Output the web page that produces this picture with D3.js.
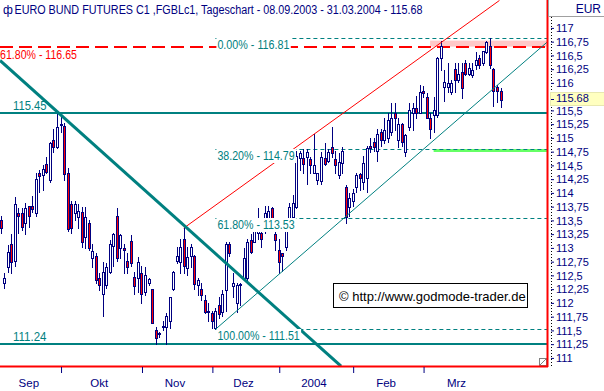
<!DOCTYPE html>
<html><head><meta charset="utf-8">
<script src="https://cdn.jsdelivr.net/npm/d3@7"></script>
<style>body{margin:0;background:#fff;overflow:hidden} svg{display:block} text{font-family:"Liberation Sans",Arial,sans-serif}</style>
</head><body><svg id="c" width="604" height="391"></svg>
<script>
// ---- data (daily OHLC, index 0 = 08.09.2003) ----
const openP = [113.49,112.35,112.64,113.07,112.76,113.62,113.62,113.44,113.75,113.76,113.62,114.35,114.31,114.51,114.22,114.96,114.82,115.25,115.20,114.35,
113.78,113.62,113.55,113.64,113.18,113.44,112.80,112.85,112.45,112.16,112.31,112.56,113.02,113.58,112.98,112.98,112.76,113.11,112.47,112.45,
112.53,112.18,112.35,112.24,111.49,111.45,111.55,111.55,111.67,112.25,112.76,112.73,113.16,112.62,112.85,112.85,112.31,112.25,112.05,111.82,
111.80,111.53,111.95,111.82,112.22,113.07,112.29,111.98,112.31,112.45,112.45,113.13,113.09,113.27,113.27,113.35,113.49,113.71,113.25,112.95,
112.89,113.00,113.53,113.55,113.73,114.62,114.62,114.64,114.60,114.36,114.22,114.20,114.62,114.58,114.82,114.60,114.31,114.53,114.09,113.73,
113.85,114.09,114.33,114.18,114.27,114.85,114.91,114.76,115.09,114.95,114.98,115.09,115.44,114.95,115.25,114.73,115.18,115.45,115.53,115.45,
115.85,115.73,115.36,115.40,115.40,116.44,115.91,115.91,115.82,116.25,116.04,116.18,116.36,116.16,116.13,116.31,116.45,116.36,116.55,116.67,
116.25,115.91,115.85];
const highP = [113.58,112.53,113.05,113.25,113.91,113.71,113.71,113.80,113.76,113.93,114.36,114.40,114.49,114.64,114.91,115.16,115.45,115.42,115.27,114.45,
113.85,113.85,113.78,113.73,113.73,113.49,113.07,112.89,112.53,112.73,112.71,113.13,113.27,113.71,113.25,113.07,112.89,113.22,112.55,112.82,
112.67,112.64,112.45,112.25,111.56,111.47,111.67,111.80,112.09,112.58,113.00,113.16,113.35,113.00,113.07,112.87,112.44,112.36,112.13,111.98,
111.85,111.89,112.09,112.22,113.09,113.09,112.53,112.35,112.35,112.98,113.16,113.25,113.49,113.71,113.35,113.76,113.75,113.73,113.35,113.16,
112.89,113.49,113.80,113.95,114.76,114.76,114.78,114.78,114.64,115.07,114.36,114.73,114.89,114.78,115.18,114.76,114.71,114.82,114.13,113.98,
114.07,114.36,114.35,114.67,114.85,114.98,114.98,115.16,115.15,115.35,115.45,115.62,115.62,115.36,115.27,115.07,115.62,115.62,115.76,115.95,
115.93,115.80,115.45,115.73,116.47,116.75,116.22,116.36,116.05,116.36,116.36,116.35,116.40,116.36,116.36,116.55,116.49,116.58,116.75,116.81,
116.27,115.95,115.89];
const lowP = [113.27,112.27,112.55,112.53,112.67,113.27,113.31,113.25,113.38,113.64,113.58,114.00,114.04,114.36,114.18,114.73,114.80,115.09,114.22,113.29,
113.27,113.49,113.35,113.00,112.98,112.95,112.64,112.36,112.22,111.76,112.27,112.53,112.67,112.76,112.80,112.53,112.53,112.67,112.16,112.18,
111.98,112.13,112.31,111.62,111.25,111.38,111.49,111.24,111.53,112.22,112.71,112.53,112.53,112.49,112.64,112.25,112.13,112.04,111.80,111.67,
111.53,111.51,111.71,111.76,111.85,112.85,112.09,111.82,111.95,112.40,112.40,112.89,113.09,113.16,113.00,113.27,113.40,113.35,112.95,112.53,
112.58,112.95,113.49,113.53,113.71,114.40,114.35,114.16,114.35,114.35,114.16,114.16,114.49,114.55,114.64,114.35,114.27,114.36,113.45,113.58,
113.76,114.00,114.04,114.07,114.00,114.73,114.75,114.58,114.85,114.89,114.91,115.05,115.13,114.82,114.85,114.67,115.13,115.13,115.35,115.44,
115.73,115.35,114.98,115.09,115.38,116.22,115.67,115.82,115.78,115.82,116.00,115.71,116.13,116.13,116.09,116.25,116.27,116.31,116.53,116.27,
115.58,115.64,115.56];
const closeP = [113.35,112.45,112.91,112.73,113.78,113.58,113.38,113.71,113.58,113.69,114.25,114.29,114.42,114.38,114.89,114.82,115.18,115.22,114.33,113.33,
113.35,113.78,113.67,113.09,113.56,112.98,112.93,112.40,112.31,112.55,112.65,113.07,113.25,112.80,113.22,112.95,112.65,112.71,112.29,112.73,
112.16,112.49,112.42,111.62,111.36,111.42,111.58,111.76,112.09,112.55,112.84,113.00,112.67,112.82,113.00,112.33,112.40,112.13,111.82,111.85,
111.67,111.84,111.78,112.16,113.07,112.89,112.36,112.31,112.33,112.80,113.09,112.91,113.36,113.45,113.16,113.62,113.67,113.53,113.13,112.73,
112.85,113.44,113.73,113.80,114.67,114.71,114.51,114.73,114.49,114.49,114.35,114.64,114.51,114.73,114.71,114.49,114.55,114.76,113.56,113.89,
113.98,114.31,114.27,114.53,114.80,114.80,114.82,115.07,114.96,115.13,115.31,115.35,115.35,115.25,114.91,115.04,115.49,115.53,115.45,115.82,
115.80,115.36,115.16,115.49,116.44,116.67,116.00,115.98,115.98,116.04,116.16,115.89,116.16,116.27,116.22,116.40,116.31,116.58,116.73,116.31,
115.85,115.85,115.68];

const monthLabels = ["Sep","Okt","Nov","Dez","2004","Feb","Mrz"];
const monthStartIdx = [0,17,40,60,79,100,120];
const monthLabelIdx = [8,28,49.5,69,89,109.5,129.5];
const priceTicks = [111,111.25,111.5,111.75,112,112.25,112.5,112.75,113,113.25,113.5,113.75,114,114.25,114.5,114.75,115,115.25,115.5,115.75,116,116.25,116.5,116.75,117];
const fibLevels = [116.81,114.79,113.53,111.51];
const fibNames = ["0.00%","38.20%","61.80%","100.00%"];
const fibStartIdx = 61;
const supportLevels = [115.45,111.24];
const redLevel = 116.65, redLevelName = "61.80%";
const zoneLevels = [116.65,116.76], zoneStartIdx = 122;
const greenLevel = 114.76, greenStartIdx = 123;
const lastPrice = 115.68;
const trendDown = [[-0.2,116.40],[96.7,110.84]];
const channelUp = [[52,113.35],[141.7,117.49]];
const channelLow = [[61,111.51],[155.2,116.73]];
const titleText = "EURO BUND FUTURES C1 ,FGBLc1, Tageschart - 08.09.2003 - 31.03.2004 - 115.68";

// ---- chart ----
const NAVY="#000080", TEAL="#008080", RED="#ff0000";
const W=547, H=366;
const svg=d3.select("#c");
const x=d3.scaleLinear().domain([0,142]).range([0.7,500.5]);
const y=d3.scaleLinear().domain([111,117]).range([357.4,27.4]);
const py=v=>Math.round(y(v));

svg.append("defs").append("clipPath").attr("id","plot").append("rect").attr("width",W).attr("height",H);
const g=svg.append("g").attr("clip-path","url(#plot)");

// resistance zone
g.append("rect").attr("x",x(zoneStartIdx)).attr("y",y(zoneLevels[1]))
 .attr("width",W-x(zoneStartIdx)).attr("height",y(zoneLevels[0])-y(zoneLevels[1])).attr("fill","#ffc8c8");
// green marker
g.append("line").attr("x1",x(greenStartIdx)).attr("x2",W).attr("y1",y(greenLevel)).attr("y2",y(greenLevel))
 .attr("stroke","#66ff66").attr("stroke-width",3);
// support lines
g.selectAll(".sup").data(supportLevels).join("line").attr("x1",0).attr("x2",W)
 .attr("y1",d=>py(d)).attr("y2",d=>py(d)).attr("stroke",TEAL).attr("stroke-width",2);
// fib lines
g.selectAll(".fib").data(fibLevels).join("line").attr("x1",x(fibStartIdx)).attr("x2",W)
 .attr("y1",d=>py(d)+0.5).attr("y2",d=>py(d)+0.5).attr("stroke",TEAL).attr("stroke-width",1).attr("stroke-dasharray","4,3");
// red dashed
g.append("line").attr("x1",0).attr("x2",W).attr("y1",py(redLevel)).attr("y2",py(redLevel))
 .attr("stroke",RED).attr("stroke-width",2).attr("stroke-dasharray","13,6");

// candles
const idx=d3.range(openP.length);
const cg=g.append("g");
cg.selectAll(".w").data(idx).join("line")
 .attr("x1",i=>Math.round(x(i))+0.5).attr("x2",i=>Math.round(x(i))+0.5)
 .attr("y1",i=>py(highP[i])).attr("y2",i=>py(lowP[i])+1)
 .attr("stroke",NAVY).attr("stroke-width",1);
cg.selectAll(".b").data(idx).join("rect")
 .attr("x",i=>Math.round(x(i))-0.5)
 .attr("y",i=>Math.min(py(openP[i]),py(closeP[i]))+0.5)
 .attr("width",2)
 .attr("height",i=>Math.max(1,Math.abs(py(openP[i])-py(closeP[i]))))
 .attr("fill",i=>closeP[i]<openP[i]?RED:"#fff")
 .attr("stroke",NAVY).attr("stroke-width",1);

// trend lines
const ln=d3.line().x(d=>x(d[0])).y(d=>y(d[1]));
g.append("path").attr("d",ln(channelLow)).attr("stroke",TEAL).attr("stroke-width",1).attr("fill","none");
g.append("path").attr("d",ln(channelUp)).attr("stroke",RED).attr("stroke-width",1).attr("fill","none");
g.append("path").attr("d",ln(trendDown)).attr("stroke",TEAL).attr("stroke-width",3).attr("fill","none");

// labels
function label(parent,txt,lx,ly,color,size,bg,len){
  const gg=parent.append("g");
  const t=gg.append("text").attr("x",lx).attr("y",ly).attr("fill",color).attr("font-size",size).text(txt);
  if(len) t.attr("textLength",len).attr("lengthAdjust","spacingAndGlyphs");
  if(bg){const b=t.node().getBBox();
    gg.insert("rect","text").attr("x",b.x-1).attr("y",b.y).attr("width",b.width+2).attr("height",b.height).attr("fill","#fff");}
  return t;
}
fibLevels.forEach((v,k)=>{
  const s=fibNames[k]+" - "+v.toFixed(2);
  label(g,s,x(fibStartIdx)+2,py(v)+11,TEAL,12,true,s.length*5.15);
});
supportLevels.forEach(v=>label(g,v.toFixed(2),13,py(v)-3,TEAL,12,false,33.5));
label(g,redLevelName+" - "+redLevel.toFixed(2),0,py(redLevel)+12,RED,12,false,77);

// copyright box
g.append("rect").attr("x",333.5).attr("y",283.5).attr("width",194).attr("height",24).attr("fill","#fff").attr("stroke","#000");
g.append("text").attr("x",339).attr("y",300.5).attr("font-size",13).attr("fill","#000").text("\u00A9 http://www.godmode-trader.de");

// resize grip
svg.append("rect").attr("x",539.5).attr("y",358.5).attr("width",7).attr("height",7).attr("fill","#fff").attr("stroke","#808080");
svg.append("line").attr("x1",540).attr("y1",365).attr("x2",546).attr("y2",359).attr("stroke","#808080");

// borders
svg.append("line").attr("x1",0).attr("x2",548).attr("y1",366.5).attr("y2",366.5).attr("stroke",RED).attr("stroke-width",2);
svg.append("line").attr("x1",547.5).attr("x2",547.5).attr("y1",0).attr("y2",367).attr("stroke",RED).attr("stroke-width",2);

// y axis (labels hidden behind the last-price box are omitted)
svg.append("line").attr("x1",551.5).attr("x2",551.5).attr("y1",17).attr("y2",366).attr("stroke","#000").attr("stroke-dasharray","1,2");
const yAxis=d3.axisRight(y).tickValues(priceTicks).tickSize(3).tickPadding(2)
  .tickFormat(v=>Math.abs(v-lastPrice)<0.12?"":String(v).replace(".",","));
const ya=svg.append("g").attr("transform","translate(551,0)").call(yAxis);
ya.select(".domain").remove();
ya.selectAll("line").attr("stroke",NAVY).attr("transform","translate(0,0.5)");
ya.selectAll("text").attr("fill",NAVY).attr("font-size",11).attr("font-family",'"Liberation Sans",Arial,sans-serif').attr("dy","0.38em");

// last price box
svg.append("rect").attr("x",550.5).attr("y",py(lastPrice)-7.5).attr("width",54).attr("height",13).attr("fill","#ffffc0").attr("stroke","#e8e8b0");
svg.append("line").attr("x1",551).attr("x2",554).attr("y1",py(lastPrice)-0.5).attr("y2",py(lastPrice)-0.5).attr("stroke",NAVY);
svg.append("text").attr("x",556).attr("y",py(lastPrice)+1.8).attr("font-size",11).attr("fill",NAVY).text(lastPrice.toFixed(2));

// EUR header
svg.append("path").attr("d","M548.5,0V16.5H604").attr("stroke","#a0a0a0").attr("fill","none");
svg.append("text").attr("x",601).attr("y",13).attr("text-anchor","end").attr("font-size",12).attr("fill",NAVY).text("EUR");

// x axis
const xAxis=d3.axisBottom(x).tickValues(monthStartIdx.slice(1)).tickSize(6).tickFormat("");
const xa=svg.append("g").attr("transform","translate(0.5,367)").call(xAxis);
xa.select(".domain").remove();
xa.selectAll("line").attr("stroke",NAVY);
monthLabels.forEach((m,k)=>{
  svg.append("text").attr("x",x(monthLabelIdx[k])).attr("y",387).attr("text-anchor","middle")
   .attr("font-size",11.5).attr("fill",NAVY).text(m);
});

// title
svg.append("text").attr("x",3).attr("y",14).attr("font-size",12).attr("fill",NAVY).text("\u0444");
svg.append("text").attr("x",14.5).attr("y",14).attr("font-size",12).attr("fill",NAVY)
  .attr("textLength",408).attr("lengthAdjust","spacingAndGlyphs").text(titleText);
</script></body></html>
